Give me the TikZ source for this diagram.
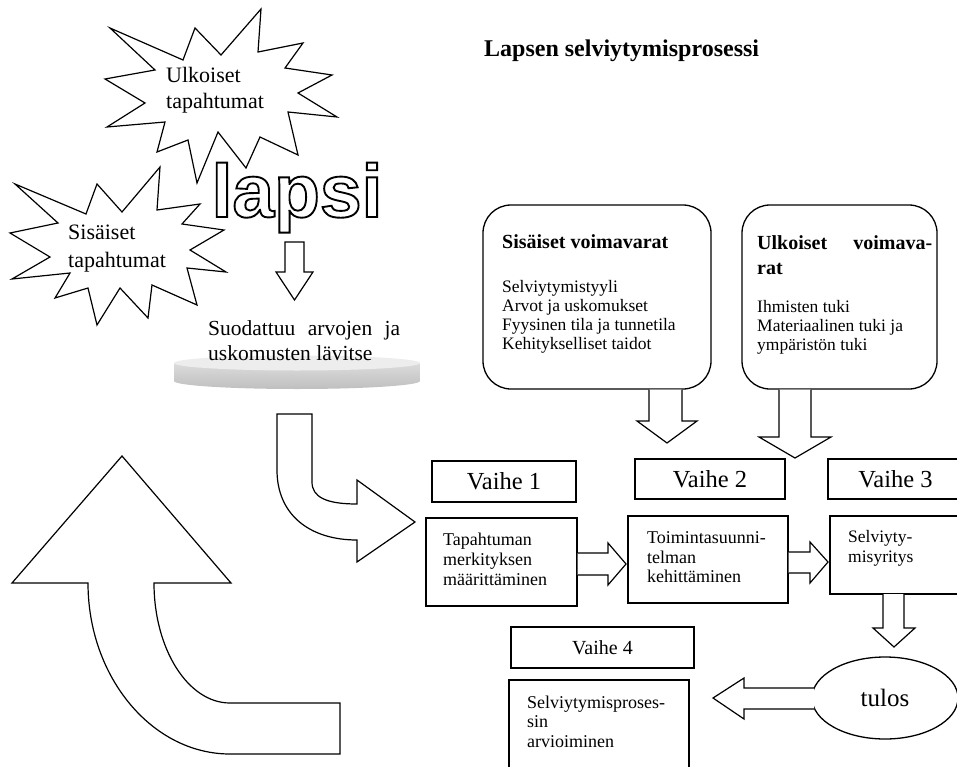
\documentclass[tikz,border=0pt]{standalone}
\usepackage{fontspec}
\setmainfont{Liberation Serif}
\newfontfamily\lapsifont{Liberation Sans}[BoldFeatures={FakeBold=2.5}]
\usetikzlibrary{shapes.geometric,calc}
\newcommand{\outlinedword}[1]{{\color{white}\special{pdf:literal direct 0 G}#1}}
\tikzset{
  shapeline/.style={draw=black, line width=1.2pt, fill=white, line join=miter},
  blockarrow/.style={draw=black, line width=1.2pt, fill=white},
  framebox/.style={draw=black, line width=1.3pt, inner sep=0pt},
  roundbox/.style={draw=black, line width=1.3pt, rounded corners=28pt, inner sep=0pt},
  txt/.style={anchor=base west, inner sep=0pt},
  multitxt/.style={anchor=north west, inner sep=0pt, align=left},
  vaihefont/.style={font=\fontsize{24.5}{28}\selectfont},
  lapsistyle/.style={anchor=base, inner sep=0pt, font=\lapsifont\bfseries\fontsize{75}{80}\selectfont}
}
\begin{document}
\begin{tikzpicture}[x=1pt,y=-1pt]
\path[clip] (0,0) rectangle (957,767);
\useasboundingbox (0,0) rectangle (957,767);

% big up arrow (bottom left)
\draw[shapeline] (122,456) -- (231,583) -- (154,583) .. controls (154,649) and (188,703) .. (230,703) -- (340,703) -- (340,754) -- (230,754) .. controls (152,754) and (88,677) .. (88,583) -- (12,583) -- cycle;

% curved arrow down-right
\draw[shapeline] (277,414) -- (312,414) -- (312,482) .. controls (312,497) and (326,504) .. (357,504) -- (357,480) -- (415,522) -- (357,562) -- (357,540) .. controls (310,540) and (277,515) .. (277,470) -- cycle;

% starburst Ulkoiset
\draw[shapeline] (110,28) -- (183,60) -- (195,28) -- (221,55) -- (261,9) -- (258,52) -- (303,43) -- (285,68) -- (332,75) -- (298,93) -- (337,117) -- (288,112) -- (298,155) -- (260,137) -- (246,168) -- (218,132) -- (197,183) -- (188,140) -- (157,152) -- (165,122) -- (107,127) -- (145,103) -- (105,79) -- (155,70) -- cycle;
\node[txt, font=\fontsize{22}{26}\selectfont] (u1) at (166,83) {Ulkoiset};
\node[txt, font=\fontsize{22}{26}\selectfont] (u2) at (166,109) {tapahtumat};

% starburst Sisaiset
\draw[shapeline] (15,184) -- (86,214) -- (97,184) -- (122,212) -- (160,167) -- (157,210) -- (200,204) -- (182,224) -- (224,230) -- (190,250) -- (226,272) -- (187,268) -- (197,305) -- (152,285) -- (148,318) -- (120,288) -- (97,325) -- (88,288) -- (55,298) -- (70,273) -- (12,279) -- (50,257) -- (10,233) -- (58,223) -- cycle;
\node[txt, font=\fontsize{22}{26}\selectfont] (s1) at (68,240) {Sisäiset};
\node[txt, font=\fontsize{22}{26}\selectfont] (s2) at (68,267) {tapahtumat};

% lapsi outlined (one node)
\node[lapsistyle] (lapsi) at (297,217) {\outlinedword{lapsi}};

% small down arrow under lapsi
\draw[blockarrow] (285,242) -- (304,242) -- (304,272) -- (313,272) -- (294.5,300) -- (276,272) -- (285,272) -- cycle;

% disk
\shade[top color=gray!28, bottom color=gray!50] (174,363) -- (174,381) .. controls (174,385.4) and (229.1,389) .. (297,389) .. controls (364.9,389) and (420,385.4) .. (420,381) -- (420,363) -- cycle;
\fill[gray!14] (297,363) ellipse [x radius=123, y radius=7.5];

\node[txt, font=\fontsize{21.5}{26}\selectfont] (f1) at (208,335) {\makebox[192pt][s]{Suodattuu arvojen ja}};
\node[txt, font=\fontsize{21.5}{26}\selectfont] (f2) at (208,360) {uskomusten lävitse};

% title
\node[txt, font=\bfseries\fontsize{24}{28}\selectfont] (title) at (484,57) {Lapsen selviytymisprosessi};

% rounded boxes
\node[roundbox, minimum width=228pt, minimum height=184pt] (r1) at (597,297) {};
\node[roundbox, minimum width=195pt, minimum height=184pt] (r2) at (839.5,297) {};
\node[txt, font=\bfseries\fontsize{20}{24}\selectfont] (r1h) at (502,248) {Sisäiset voimavarat};
\node[multitxt, font=\fontsize{17.5}{19.2}\selectfont] (r1t) at (502,280) {Selviytymistyyli\\Arvot ja uskomukset\\Fyysinen tila ja tunnetila\\Kehitykselliset taidot};
\node[txt, font=\bfseries\fontsize{20}{24}\selectfont] (r2h) at (757,249) {\makebox[175pt][s]{Ulkoiset voimava-}};
\node[txt, font=\bfseries\fontsize{20}{24}\selectfont] (r2h2) at (757,274) {rat};
\node[multitxt, font=\fontsize{17.5}{19}\selectfont] (r2t) at (757,300) {Ihmisten tuki\\Materiaalinen tuki ja\\ympäristön tuki};

% down arrows from rounded boxes
\draw[blockarrow] (649,389.5) -- (649,421) -- (637,421) -- (667,443) -- (697,421) -- (682,421) -- (682,389.5);
\draw[blockarrow] (779,389.5) -- (779,437) -- (759,437) -- (795,458) -- (831,437) -- (811,437) -- (811,389.5);

% Vaihe boxes
\node[framebox, minimum width=144pt, minimum height=41pt, vaihefont] (v1) at (504,481.5) {Vaihe 1};
\node[framebox, minimum width=150pt, minimum height=40pt, vaihefont] (v2) at (710,479) {Vaihe 2};
\node[framebox, minimum width=134pt, minimum height=40pt] (v3) at (895,479) {};
\node[vaihefont, inner sep=0pt] (v3t) at (895.5,479) {Vaihe 3};

% step boxes
\node[framebox, minimum width=151pt, minimum height=88pt] (ba) at (501.5,562) {};
\node[multitxt, font=\fontsize{18}{20}\selectfont] (bat) at (443,532.5) {Tapahtuman\\merkityksen\\määrittäminen};
\node[framebox, minimum width=160pt, minimum height=87pt] (bb) at (708,559.5) {};
\node[multitxt, font=\fontsize{18}{19.5}\selectfont] (bbt) at (647,531.5) {Toimintasuunni-\\telman\\kehittäminen};
\node[framebox, minimum width=132pt, minimum height=78pt] (bc) at (896,555) {};
\node[multitxt, font=\fontsize{17.5}{20}\selectfont] (bct) at (848,530) {Selviyty-\\misyritys};

% arrows between step boxes
\draw[blockarrow] (ba.east |- 0,553) -- (608,553) -- (608,543) -- (626,564) -- (608,585) -- (608,575) -- (ba.east |- 0,575);
\draw[blockarrow] (bb.east |- 0,552) -- (810,552) -- (810,542) -- (828,562) -- (810,583) -- (810,573) -- (bb.east |- 0,573);
\draw[blockarrow] (883,594) -- (883,628) -- (873,628) -- (894,647) -- (915,628) -- (904,628) -- (904,594);

% tulos
\node[draw, line width=1.3pt, ellipse, minimum width=146pt, minimum height=82pt, inner sep=0pt, font=\fontsize{25}{29}\selectfont] (tulos) at (885,698) {tulos};
\draw[blockarrow] (814,688) -- (744,688) -- (744,678) -- (713,698) -- (744,719) -- (744,709) -- (814,709);

% Vaihe 4
\node[framebox, minimum width=183pt, minimum height=41pt, font=\fontsize{20}{24}\selectfont] (v4) at (602.5,647.5) {Vaihe 4};
\node[framebox, minimum width=180pt, minimum height=100pt] (bd) at (599,730) {};
\node[multitxt, font=\fontsize{18}{19.5}\selectfont] (bdt) at (527,695.5) {Selviytymisproses-\\sin\\arvioiminen};
\end{tikzpicture}
\end{document}
